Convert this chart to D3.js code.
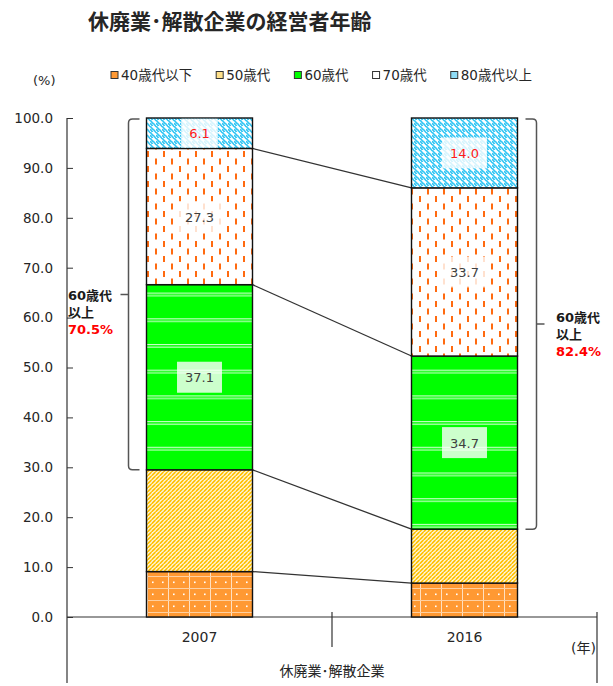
<!DOCTYPE html>
<html>
<head>
<meta charset="utf-8">
<script src="https://cdn.jsdelivr.net/npm/d3@7/dist/d3.min.js"></script>
<style>
	body { margin: 0; background: #fff; }
	text { font-family: "DejaVu Sans", "Noto Sans CJK JP", sans-serif; fill: #262626; }
</style>
</head>
<body>
<div id="chart"></div>
<script>
// data
var years = ['2007', '2016'];
var ageGroups = ['40歳代以下', '50歳代', '60歳代', '70歳代', '80歳代以上'];
var under40s = [9.1, 6.8];
var age50s = [20.4, 10.8];
var age60s = [37.1, 34.7];
var age70s = [27.3, 33.7];
var over80s = [6.1, 14.0];
var over60Labels = ['70.5%', '82.4%'];
var yTickValues = [0, 10, 20, 30, 40, 50, 60, 70, 80, 90, 100];
var groupLabel = '休廃業･解散企業';
var titleText = '休廃業･解散企業の経営者年齢';

var seriesValues = [under40s, age50s, age60s, age70s, over80s];
var labelled = [false, false, true, true, true];
var labelColor = ['#404040', '#404040', '#404040', '#404040', '#ff1a1a'];
var legendColor = ['#ff9933', '#ffe08a', '#00ff00', '#ffffff', '#8fdcf6'];

var width = 613, height = 686;
var plotL = 67, plotR = 597, plotB = 617, plotT = 118;

var rows = years.map(function(yr, i) {
	var r = {year: yr};
	ageGroups.forEach(function(g, k) { r[g] = seriesValues[k][i]; });
	return r;
});
var stacked = d3.stack().keys(ageGroups)(rows);

var svg = d3.select('#chart').append('svg')
	.attr('width', width)
	.attr('height', height);

var x = d3.scaleBand().domain(years).range([plotL, plotR]);
var y = d3.scaleLinear().domain([0, 100]).range([plotB, plotT]);
var barW = x.bandwidth() * 0.4;
function barX(yr) { return x(yr) + (x.bandwidth() - barW) / 2; }

//patterns///////////////////////////////////////////////////////////////////////////
var defs = svg.append('defs');

var p0 = defs.append('pattern').attr('id', 'pat0').attr('patternUnits', 'userSpaceOnUse')
	.attr('width', 21).attr('height', 12);
p0.append('rect').attr('width', 21).attr('height', 12).attr('fill', '#ff9933');
p0.append('rect').attr('x', 0).attr('y', 0).attr('width', 1).attr('height', 12).attr('fill', '#ffe0c0');
p0.append('rect').attr('x', 0).attr('y', 0).attr('width', 21).attr('height', 1).attr('fill', '#ffd0a0');
p0.append('rect').attr('x', 5).attr('y', 5.5).attr('width', 1.6).attr('height', 1.6).attr('fill', '#fff');
p0.append('rect').attr('x', 15).attr('y', 5.5).attr('width', 1.6).attr('height', 1.6).attr('fill', '#fff');

var p1 = defs.append('pattern').attr('id', 'pat1').attr('patternUnits', 'userSpaceOnUse')
	.attr('width', 4).attr('height', 4);
p1.append('rect').attr('width', 4).attr('height', 4).attr('fill', '#fff8e0');
p1.append('path').attr('d', 'M0.3,3.2 L3,0.5')
	.attr('stroke', '#ffc000').attr('stroke-width', 1.7).attr('stroke-linecap', 'round');
p1.append('rect').attr('x', 2.8).attr('y', 2.8).attr('width', 1.2).attr('height', 1.2).attr('fill', '#ffcc33');

var p2 = defs.append('pattern').attr('id', 'pat2').attr('patternUnits', 'userSpaceOnUse')
	.attr('width', 10).attr('height', 25.7);
p2.append('rect').attr('width', 10).attr('height', 25.7).attr('fill', '#00ff00');
p2.append('rect').attr('y', 10).attr('width', 10).attr('height', 1).attr('fill', '#e8ffe8');
p2.append('rect').attr('y', 12.5).attr('width', 10).attr('height', 1).attr('fill', '#e8ffe8');

var p3 = defs.append('pattern').attr('id', 'pat3').attr('patternUnits', 'userSpaceOnUse')
	.attr('width', 16).attr('height', 15);
p3.append('rect').attr('width', 16).attr('height', 15).attr('fill', '#fff');
p3.append('rect').attr('x', 3).attr('y', 1).attr('width', 2).attr('height', 6).attr('fill', '#ff6a10');
p3.append('rect').attr('x', 11).attr('y', 8.5).attr('width', 2).attr('height', 6).attr('fill', '#ff6a10');

var p4 = defs.append('pattern').attr('id', 'pat4').attr('patternUnits', 'userSpaceOnUse')
	.attr('width', 6).attr('height', 6);
p4.append('rect').attr('width', 6).attr('height', 6).attr('fill', '#fff');
p4.append('path').attr('d', 'M0.5,0.5 L3,3.5 M3.5,3.5 L6,6.5 M3.5,-2.5 L6,0.5 M0.5,3.5 L2.5,6')
	.attr('stroke', '#33c6f4').attr('stroke-width', 1.6).attr('stroke-linecap', 'round');

//title & legend///////////////////////////////////////////////////////////////////////////
svg.append('text')
	.attr('x', 88).attr('y', 29)
	.style('font-size', '21px').style('font-weight', 'bold')
	.style('font-family', '"Noto Sans CJK JP", sans-serif')
	.text(titleText);

svg.append('text')
	.attr('x', 33).attr('y', 85)
	.style('font-size', '13px')
	.text('(%)');

var legend = svg.append('g').attr('transform', 'translate(111,75)');
var lx = 0;
ageGroups.forEach(function(g, k) {
	var item = legend.append('g').attr('transform', 'translate(' + lx + ',0)');
	item.append('rect')
		.attr('x', 0).attr('y', -3.5).attr('width', 7).attr('height', 7)
		.attr('fill', legendColor[k]).attr('stroke', '#333').attr('stroke-width', 1);
	var t = item.append('text')
		.attr('x', 10).attr('y', 5)
		.style('font-size', '13.5px')
		.text(g);
	lx += 10 + t.node().getComputedTextLength() + 24;
});

//axes///////////////////////////////////////////////////////////////////////////
var yAxis = svg.append('g')
	.attr('transform', 'translate(' + plotL + ',0)')
	.call(d3.axisLeft(y).tickValues(yTickValues).tickSize(-6).tickPadding(14)
		.tickFormat(d3.format('.1f')));
yAxis.select('.domain').remove();
yAxis.selectAll('.tick line').attr('stroke', '#333');
yAxis.selectAll('.tick text').style('font-size', '13.5px').attr('fill', '#262626')
	.style('font-family', '"DejaVu Sans", sans-serif');

svg.append('line').attr('x1', plotL).attr('x2', plotL).attr('y1', plotT).attr('y2', 683)
	.attr('stroke', '#333').attr('stroke-width', 1.2);
svg.append('line').attr('x1', plotL).attr('x2', plotR).attr('y1', plotB).attr('y2', plotB)
	.attr('stroke', '#333').attr('stroke-width', 1.2);
svg.append('line').attr('x1', x(years[1])).attr('x2', x(years[1])).attr('y1', plotB - 5).attr('y2', 647)
	.attr('stroke', '#333').attr('stroke-width', 1.2);
svg.append('line').attr('x1', plotR).attr('x2', plotR).attr('y1', plotB - 5).attr('y2', 683)
	.attr('stroke', '#333').attr('stroke-width', 1.2);

svg.selectAll('.yearlabel')
	.data(years).enter().append('text')
	.attr('class', 'yearlabel')
	.attr('x', function(d) { return x(d) + x.bandwidth() / 2; })
	.attr('y', 642)
	.attr('text-anchor', 'middle')
	.style('font-size', '14px')
	.text(function(d) { return d; });

svg.append('text')
	.attr('x', plotR - 1).attr('y', 653)
	.attr('text-anchor', 'end')
	.style('font-size', '14px')
	.text('(年)');

svg.append('text')
	.attr('x', (plotL + plotR) / 2).attr('y', 676)
	.attr('text-anchor', 'middle')
	.style('font-size', '14px')
	.text(groupLabel);

//connector lines///////////////////////////////////////////////////////////////////////////
stacked.slice(0, 4).forEach(function(layer) {
	svg.append('line')
		.attr('x1', barX(years[0]) + barW).attr('y1', y(layer[0][1]))
		.attr('x2', barX(years[1])).attr('y2', y(layer[1][1]))
		.attr('stroke', '#333').attr('stroke-width', 1.3);
});

//bars///////////////////////////////////////////////////////////////////////////
var layers = svg.selectAll('.layer')
	.data(stacked).enter().append('g')
	.attr('class', 'layer');

layers.selectAll('rect')
	.data(function(d) { return d.map(function(s) { return {s: s, k: d.index}; }); })
	.enter().append('rect')
	.attr('x', function(d) { return barX(d.s.data.year); })
	.attr('y', function(d) { return y(d.s[1]); })
	.attr('width', barW)
	.attr('height', function(d) { return y(d.s[0]) - y(d.s[1]); })
	.attr('fill', function(d) { return 'url(#pat' + d.k + ')'; })
	.attr('stroke', '#111')
	.attr('stroke-width', 1.4);

//value labels///////////////////////////////////////////////////////////////////////////
stacked.forEach(function(layer, k) {
	if(!labelled[k]) return;
	layer.forEach(function(s) {
		var cx = barX(s.data.year) + barW / 2;
		var cy = (y(s[0]) + y(s[1])) / 2;
		var segH = y(s[0]) - y(s[1]);
		var val = d3.format('.1f')(s[1] - s[0]);
		var t = svg.append('text')
			.attr('x', cx).attr('y', cy + 5)
			.attr('text-anchor', 'middle')
			.style('font-size', '13px')
			.style('fill', labelColor[k])
			.text(val);
		var w = t.node().getComputedTextLength() + 16;
		var h = Math.min(31, segH - 1.5);
		svg.insert('rect', function() { return t.node(); })
			.attr('x', cx - w / 2).attr('y', cy - h / 2)
			.attr('width', w).attr('height', h)
			.attr('fill', '#fff').attr('fill-opacity', 0.8);
	});
});

//brackets///////////////////////////////////////////////////////////////////////////
function bracket(xv, y0, y1, dir, tickDir) {
	// dir: direction of the hooks (+1 right, -1 left)
	var h = 11 * dir, r = 4;
	svg.append('path')
		.attr('d', 'M' + (xv + h) + ',' + y0 + ' L' + (xv + r * dir) + ',' + y0 +
			' Q' + xv + ',' + y0 + ' ' + xv + ',' + (y0 + r) +
			' L' + xv + ',' + (y1 - r) +
			' Q' + xv + ',' + y1 + ' ' + (xv + r * dir) + ',' + y1 +
			' L' + (xv + h) + ',' + y1 +
			' M' + xv + ',' + ((y0 + y1) / 2) + ' L' + (xv + 8 * tickDir) + ',' + ((y0 + y1) / 2))
		.attr('fill', 'none').attr('stroke', '#555').attr('stroke-width', 1.5);
}

var top2007 = stacked[1][0][1];
var top2016 = stacked[1][1][1];
bracket(barX(years[0]) - 18, y(100) + 1, y(top2007), 1, -1);
bracket(barX(years[1]) + barW + 19, y(100) + 1, y(top2016), -1, 1);

function over60Label(x0, y0, pct) {
	var lines = ['60歳代', '以上', pct];
	lines.forEach(function(s, i) {
		svg.append('text')
			.attr('x', x0).attr('y', y0 + i * 17)
			.style('font-size', '13px').style('font-weight', 'bold')
			.style('fill', i == 2 ? '#ff0000' : '#1a1a1a')
			.text(s);
	});
}
over60Label(68, 300, over60Labels[0]);
over60Label(556, 322, over60Labels[1]);
</script>
</body>
</html>
